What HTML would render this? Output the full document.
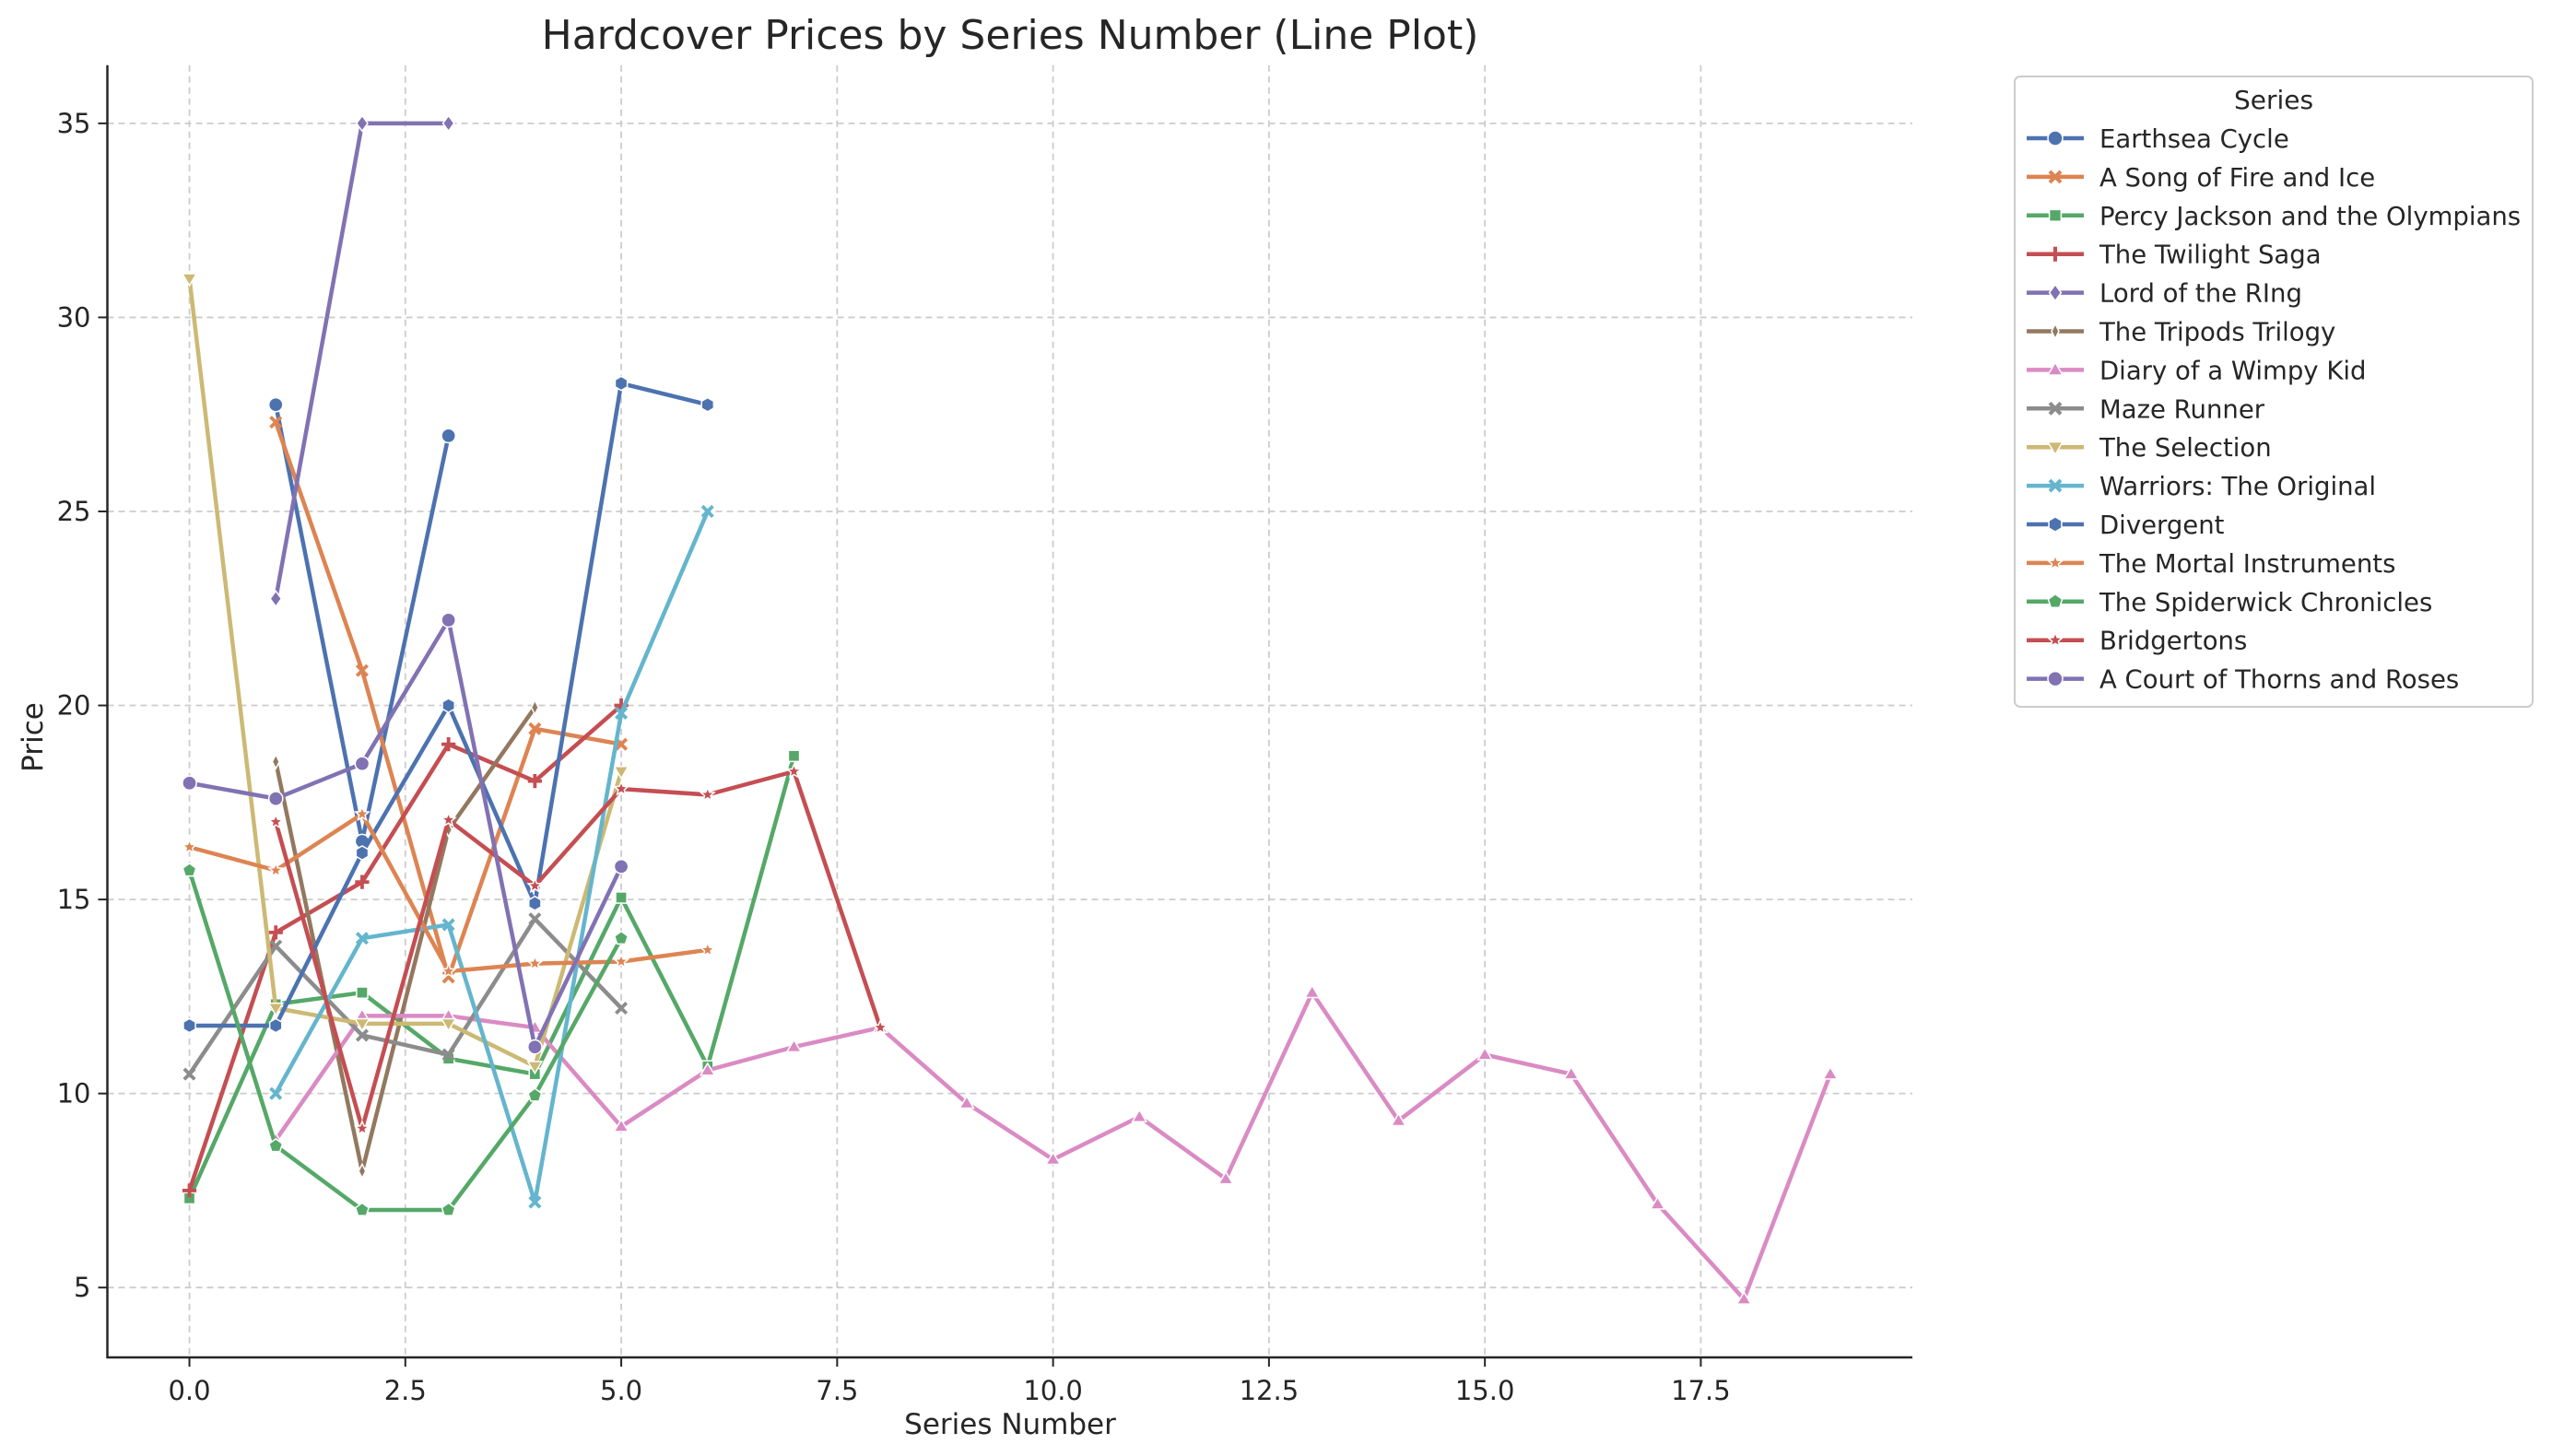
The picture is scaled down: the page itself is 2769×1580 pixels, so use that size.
<!DOCTYPE html>
<html><head><meta charset="utf-8">
<style>
html,body{margin:0;padding:0;background:#fff;}
svg{display:block;font-family:"DejaVu Sans","Liberation Sans",sans-serif;}
</style></head>
<body>
<svg id="chart" width="2769" height="1580" viewBox="0 0 2769 1580" xmlns="http://www.w3.org/2000/svg">
<text x="1096" y="53" text-anchor="middle" font-size="44" fill="#262626">Hardcover Prices by Series Number (Line Plot)</text>
<g id="grid"></g>
<g id="series"></g>
<g id="axes"></g>
<text x="1096" y="1556" text-anchor="middle" font-size="31" fill="#262626">Series Number</text>
<text x="46" y="800" text-anchor="middle" font-size="31" fill="#262626" transform="rotate(-90 46 800)">Price</text>
<g id="legend"></g>
</svg>
<script>
const seriesNames = ["Earthsea Cycle","A Song of Fire and Ice","Percy Jackson and the Olympians","The Twilight Saga","Lord of the RIng","The Tripods Trilogy","Diary of a Wimpy Kid","Maze Runner","The Selection","Warriors: The Original","Divergent","The Mortal Instruments","The Spiderwick Chronicles","Bridgertons","A Court of Thorns and Roses"];
const seriesX = [
 [1,2,3],
 [1,2,3,4,5],
 [0,1,2,3,4,5,6,7],
 [0,1,2,3,4,5],
 [1,2,3],
 [1,2,3,4],
 [1,2,3,4,5,6,7,8,9,10,11,12,13,14,15,16,17,18,19],
 [0,1,2,3,4,5],
 [0,1,2,3,4,5],
 [1,2,3,4,5,6],
 [0,1,2,3,4,5,6],
 [0,1,2,3,4,5,6],
 [0,1,2,3,4,5],
 [1,2,3,4,5,6,7,8],
 [0,1,2,3,4,5]
];
const seriesY = [
 [27.75,16.5,26.95],
 [27.3,20.9,13.0,19.4,19.0],
 [7.3,12.3,12.6,10.9,10.5,15.05,10.7,18.7],
 [7.5,14.15,15.45,19.0,18.05,20.0],
 [22.75,35.0,35.0],
 [18.55,8.0,16.8,19.95],
 [8.8,12.0,12.0,11.7,9.15,10.6,11.2,11.7,9.75,8.3,9.4,7.8,12.6,9.3,11.0,10.5,7.15,4.7,10.5],
 [10.5,13.8,11.5,11.0,14.5,12.2],
 [31.0,12.2,11.8,11.8,10.7,18.3],
 [10.0,14.0,14.35,7.2,19.8,25.0],
 [11.75,11.75,16.2,20.0,14.9,28.3,27.75],
 [16.35,15.75,17.2,13.15,13.35,13.4,13.7],
 [15.75,8.65,7.0,7.0,9.95,14.0],
 [17.0,9.1,17.05,15.35,17.85,17.7,18.3,11.7],
 [18.0,17.6,18.5,22.2,11.2,15.85]
];
const seriesColors = ["#4C72B0","#DD8452","#55A868","#C44E52","#8172B3","#937860","#DA8BC3","#8C8C8C","#CCB974","#64B5CD","#4C72B0","#DD8452","#55A868","#C44E52","#8172B3"];
const seriesMarkers = ["circle","x","square","plus","diamond","thindiamond","triangle","x","triangledown","x","hexagon","star","pentagon","star","circle"];
const xTicks = [0,2.5,5,7.5,10,12.5,15,17.5];
const xTickLabels = ["0.0","2.5","5.0","7.5","10.0","12.5","15.0","17.5"];
const yTicks = [5,10,15,20,25,30,35];
const yTickLabels = ["5","10","15","20","25","30","35"];

const L=116.5,R=2075,T=70.7,B=1473;
const xMin=-0.95,xMax=19.95,yMin=3.2,yMax=36.5;
const sx=v=>L+(v-xMin)/(xMax-xMin)*(R-L);
const sy=v=>B-(v-yMin)/(yMax-yMin)*(B-T);
const NS="http://www.w3.org/2000/svg";
function mk(tag,attrs,parent){const e=document.createElementNS(NS,tag);for(const k in attrs)e.setAttribute(k,attrs[k]);parent.appendChild(e);return e;}

const grid=document.getElementById('grid'),axes=document.getElementById('axes'),sg=document.getElementById('series'),lg=document.getElementById('legend');
xTicks.forEach((t,i)=>{
 const g=mk('line',{x1:sx(t),x2:sx(t),y1:T,y2:B,stroke:'#cccccc','stroke-width':1.8,'stroke-dasharray':'7 5'},grid);
 
 
 const tk=mk('line',{x1:sx(t),x2:sx(t),y1:B,y2:B+10,stroke:'#262626','stroke-width':2},axes);
 
 
 const tx=mk('text',{x:sx(t),y:B+46,'text-anchor':'middle','font-size':29,fill:'#262626'},axes);
 tx.textContent=xTickLabels[i];
 
 
});
yTicks.forEach((t,i)=>{
 const g=mk('line',{x1:L,x2:R,y1:sy(t),y2:sy(t),stroke:'#cccccc','stroke-width':1.8,'stroke-dasharray':'7 5'},grid);
 
 
 const tk=mk('line',{x1:L-10,x2:L,y1:sy(t),y2:sy(t),stroke:'#262626','stroke-width':2},axes);
 
 
 const tx=mk('text',{x:L-18,y:sy(t)+10,'text-anchor':'end','font-size':29,fill:'#262626'},axes);
 tx.textContent=yTickLabels[i];
 
 
});
const ax=mk('path',{d:`M${L} ${T} L${L} ${B} L${R} ${B}`,fill:'none',stroke:'#262626','stroke-width':2.5},axes);



function poly(n,r,rot){let p=[];for(let i=0;i<n;i++){const a=rot+i*2*Math.PI/n;p.push((r*Math.cos(a)).toFixed(2)+','+(r*Math.sin(a)).toFixed(2));}return p.join(' ');}
function marker(type,x,y,c,parent,s){
 s=s||1;let e;const st={fill:c,stroke:'#fff','stroke-width':1.5};
 const r=8*s;
 if(type==='circle')e=mk('circle',Object.assign({cx:x,cy:y,r:r},st),parent);
 else if(type==='square')e=mk('rect',Object.assign({x:x-r*0.8,y:y-r*0.8,width:r*1.6,height:r*1.6},st),parent);
 else if(type==='diamond')e=mk('polygon',Object.assign({points:`${x},${y-r*1.1} ${x+r*0.8},${y} ${x},${y+r*1.1} ${x-r*0.8},${y}`},st),parent);
 else if(type==='thindiamond')e=mk('polygon',Object.assign({points:`${x},${y-r} ${x+r*0.5},${y} ${x},${y+r} ${x-r*0.5},${y}`},st),parent);
 else if(type==='triangle')e=mk('polygon',Object.assign({points:`${x},${y-r} ${x+r},${y+r*0.7} ${x-r},${y+r*0.7}`},st),parent);
 else if(type==='triangledown')e=mk('polygon',Object.assign({points:`${x},${y+r} ${x+r},${y-r*0.7} ${x-r},${y-r*0.7}`},st),parent);
 else if(type==='hexagon'||type==='pentagon'){const n=type==='hexagon'?6:5;e=mk('polygon',Object.assign({points:poly(n,r,-Math.PI/2),transform:`translate(${x} ${y})`},st),parent);}
 else if(type==='star'){let p=[];for(let i=0;i<10;i++){const a=-Math.PI/2+i*Math.PI/5;const rr=i%2?r*0.45:r;p.push((x+rr*Math.cos(a)).toFixed(2)+','+(y+rr*Math.sin(a)).toFixed(2));}e=mk('polygon',Object.assign({points:p.join(' ')},st),parent);}
 else if(type==='plus')e=mk('path',{d:`M${x-r} ${y}H${x+r}M${x} ${y-r}V${y+r}`,stroke:c,'stroke-width':4*s},parent);
 else e=mk('path',{d:`M${x-r*0.75} ${y-r*0.75}L${x+r*0.75} ${y+r*0.75}M${x+r*0.75} ${y-r*0.75}L${x-r*0.75} ${y+r*0.75}`,stroke:c,'stroke-width':4*s},parent);
 return e;
}
seriesNames.forEach((n,i)=>{
 const g=mk('g',{},sg);
 
 
 const pts=seriesX[i].map((x,j)=>sx(x)+','+sy(seriesY[i][j])).join(' ');
 const pl=mk('polyline',{points:pts,fill:'none',stroke:seriesColors[i],'stroke-width':4.5,'stroke-linejoin':'round'},g);
 
 
 seriesX[i].forEach((x,j)=>{
  const m=marker(seriesMarkers[i],sx(x),sy(seriesY[i][j]),seriesColors[i],g,0.95);
  
  
 });
});
// legend
const lb=mk('rect',{x:2186,y:83,width:562,height:684,rx:6,fill:'#fff',stroke:'#cccccc','stroke-width':2},lg);


const lt=mk('text',{x:2467,y:118,'text-anchor':'middle','font-size':28,fill:'#262626'},lg);
lt.textContent='Series';


seriesNames.forEach((n,i)=>{
 const y=150+i*41.9;
 const g=mk('g',{},lg);
 
 
 mk('line',{x1:2199,x2:2261,y1:y,y2:y,stroke:seriesColors[i],'stroke-width':4.5},g);
 marker(seriesMarkers[i],2230,y,seriesColors[i],g,1.0);
 const t=mk('text',{x:2278,y:y+10,'font-size':27.5,fill:'#262626'},g);
 t.textContent=n;
});
</script>
</body></html>
